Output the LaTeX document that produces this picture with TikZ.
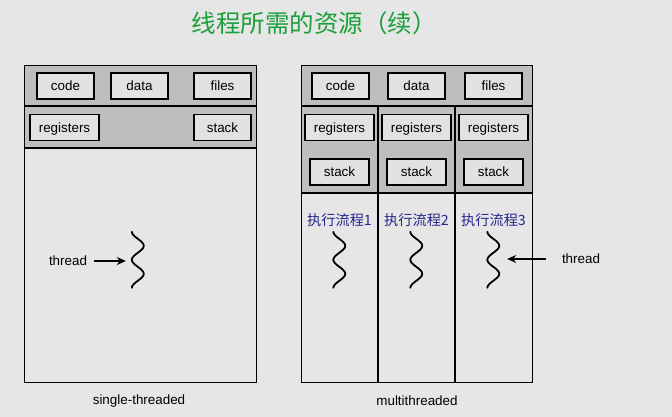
\documentclass[tikz,border=0pt]{standalone}
\usepackage{fontspec}
\setmainfont{Liberation Sans}
\newfontfamily\cjk{Noto Sans CJK SC}
\usetikzlibrary{arrows.meta}
\definecolor{bgcol}{RGB}{229,230,229}
\definecolor{bandgray}{RGB}{190,190,190}
\definecolor{boxgray}{RGB}{226,226,226}
\definecolor{titlegreen}{RGB}{26,160,58}
\definecolor{flowblue}{RGB}{38,38,140}

\begin{document}
\begin{tikzpicture}[x=1pt, y=-1pt, font=\fontsize{13.4}{15}\selectfont,
    res/.style={draw, line width=1.5pt, fill=boxgray, minimum width=57pt, minimum height=26pt, inner sep=0pt, text height=9.5pt, text depth=0pt},
    band/.style={draw, line width=0.8pt, fill=bandgray},
    flow/.style={font=\cjk\fontsize{14.2}{16}\selectfont, text=flowblue},
    wave/.style={minimum width=12pt, minimum height=56pt, inner sep=0pt},
    ptr/.style={-{Stealth[length=9pt, width=8pt]}, line width=1.4pt}]

    \fill[bgcol] (0,0) rectangle (672,417);
    \useasboundingbox (0,0) rectangle (672,417);

    \node[font=\cjk\fontsize{24.5}{26}\selectfont, text=titlegreen] (title) at (314,23) {线程所需的资源（续）};

    % single-threaded
    \draw[band] (24,65) rectangle (256,106);
    \draw[band] (24,106) rectangle (256,148);
    \draw[line width=0.8pt] (24,65) rectangle (256,382);
    \draw[line width=1.6pt] (24,106) -- (256,106);
    \draw[line width=1.6pt] (24,148) -- (256,148);

    \node[res] (lcode) at (65.5,86) {code};
    \node[res] (ldata) at (139.5,86) {data};
    \node[res] (lfiles) at (222.5,86) {files};
    \node[res, minimum width=69pt] (lregs) at (64.5,127.5) {registers};
    \node[res] (lstack) at (222.5,127.5) {stack};

    % multithreaded
    \draw[band] (301,65) rectangle (532,106);
    \draw[band] (301,106) rectangle (532,193);
    \draw[line width=0.8pt] (301,65) rectangle (532,382);
    \draw[line width=1.6pt] (301,106) -- (532,106);
    \draw[line width=1.6pt] (301,193) -- (532,193);
    \draw[line width=1.3pt] (378,106) -- (378,382);
    \draw[line width=1.3pt] (455,106) -- (455,382);

    \node[res] (rcode) at (340.5,86) {code};
    \node[res] (rdata) at (416.5,86) {data};
    \node[res] (rfiles) at (493.5,86) {files};
    \foreach \cx/\i in {339.5/1, 416.5/2, 493.5/3} {
        \node[res, minimum width=69pt] (regs\i) at (\cx,127.5) {registers};
        \node[res, minimum width=59pt] (stack\i) at (\cx,172) {stack};
        \node[flow] (flow\i) at (\cx,220) {执行流程\i};
    }

    % threads
    \foreach \cx/\w in {138/w0, 339.5/w1, 416.5/w2, 493.5/w3} {
        \node[wave] (\w) at (\cx,260) {};
        \draw[line width=1.8pt, line cap=round] (\w.north west)
            .. controls +(0,5) and +(0,-5) .. ++(12,14)
            .. controls +(0,5) and +(0,-5) .. ++(-12,14)
            .. controls +(0,5) and +(0,-5) .. ++(12,14)
            .. controls +(0,5) and +(0,-5) .. ++(-12,14);
    }

    \node (thr1) at (68,261) {thread};
    \node (thr2) at (581,259) {thread};
    \draw[ptr, shorten <=3pt, shorten >=6pt] (thr1.east) -- (thr1.east -| w0.west);
    \draw[ptr, shorten <=12pt, shorten >=7.5pt] (thr2.west) -- (thr2.west -| w3.east);

    \node (cap1) at (139,401) {single-threaded};
    \node (cap2) at (417,401) {multithreaded};

\end{tikzpicture}
\end{document}
